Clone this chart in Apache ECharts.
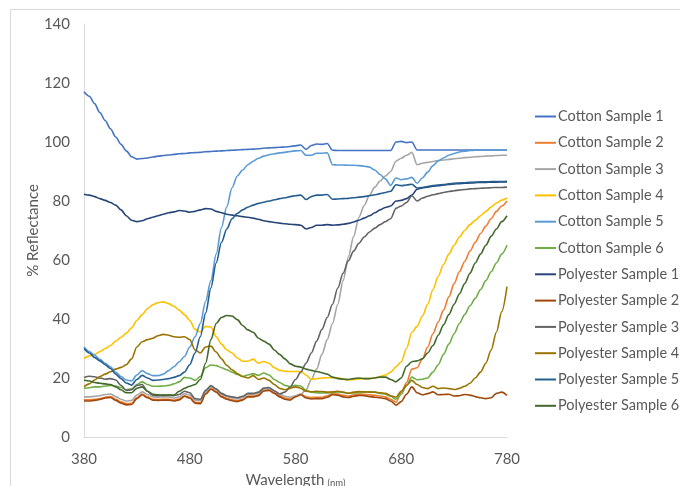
<!DOCTYPE html>
<html>
<head>
<meta charset="utf-8">
<script src="https://cdn.jsdelivr.net/npm/echarts@6/dist/echarts.min.js"></script>
<style>
html,body{margin:0;padding:0;background:#fff;}
#chart{width:680px;height:486px;}
</style>
</head>
<body>
<div id="chart"></div>
<script>
const wavelengths = [
  380,385,390,395,400,405,410,415,420,425,
  430,435,440,445,450,455,460,465,470,475,
  480,485,490,495,500,505,510,515,520,525,
  530,535,540,545,550,555,560,565,570,575,
  580,585,590,595,600,605,610,615,620,625,
  630,635,640,645,650,655,660,665,670,675,
  680,685,690,695,700,705,710,715,720,725,
  730,735,740,745,750,755,760,765,770,775,
  780];

const xTicks = [380, 480, 580, 680, 780];
const yTicks = [0, 20, 40, 60, 80, 100, 120, 140];

const seriesNames = [
  'Cotton Sample 1','Cotton Sample 2','Cotton Sample 3','Cotton Sample 4','Cotton Sample 5','Cotton Sample 6',
  'Polyester Sample 1','Polyester Sample 2','Polyester Sample 3','Polyester Sample 4','Polyester Sample 5','Polyester Sample 6'];

const cotton1 = [
  117,115.5,113,110,107.3,104.5,101.7,99.2,97,95,
  94.2,94.4,94.6,94.9,95.2,95.4,95.6,95.8,96,96.1,
  96.3,96.4,96.5,96.7,96.8,96.9,97,97.1,97.2,97.3,
  97.4,97.5,97.6,97.7,97.9,98,98.1,98.2,98.3,98.5,
  98.7,99,97.5,98.8,99.3,99.2,99.5,97.2,97.1,97.1,
  97.1,97.1,97.1,97.1,97.1,97.1,97.1,97.1,97.1,100,
  100.2,99.8,100,97.3,97.3,97.3,97.3,97.3,97.3,97.3,
  97.3,97.3,97.3,97.3,97.3,97.3,97.3,97.3,97.3,97.3,
  97.3];
const cotton2 = [
  12.6,12.6,12.8,13,13.5,13.7,12.8,11.9,11.3,11.4,
  13.3,14.6,13.6,12.8,12.7,12.8,12.8,12.5,12.9,14,
  13.5,11.8,11.6,14.7,16.4,15.4,13.9,13.1,12.6,12.3,
  12.8,13.9,13.9,14.3,15.9,16,15,14,13.2,12.9,
  13.9,14.6,13.6,13.4,13.5,13.5,14,14.7,14.6,14.1,
  13.9,14.3,14.6,14.5,14.3,14.1,13.9,13.6,12.8,11.8,
  15,18.5,23,23.5,26.5,30.5,35,39,43,47.5,
  52,56,59.5,63,66,69,71.5,74,76.5,78.3,
  80];
const cotton3 = [
  13.6,13.6,13.8,14,14.4,14.6,13.7,12.8,12.2,12.4,
  14.2,15.3,14.4,13.6,13.5,13.6,13.6,13.2,13.6,14.7,
  14.2,12.5,12.3,15.3,17,16,14.5,13.7,13.2,12.9,
  13.4,14.5,14.5,14.9,16.3,16.5,15.5,14.5,13.8,13.5,
  14,14.5,16,19.5,23,28,33,38.5,45,53,
  61,68,74.5,78.5,82,84.7,86.8,88.5,90,93.5,
  94.5,95.5,96.5,92.3,92.8,93.1,93.4,93.7,93.9,94.1,
  94.3,94.5,94.7,94.8,95,95.1,95.2,95.3,95.4,95.5,
  95.5];
const cotton4 = [
  26.6,27.5,28,28.9,30,31,32.5,33.8,35.2,37,
  39.5,41.5,43.5,44.8,45.5,45.8,45.2,44.3,43,41.5,
  39.5,36.5,35.6,37.5,37.3,34,31.5,29.5,28.5,26.8,
  25.7,25.7,26.4,25,25.6,25,23.5,22.6,22.3,22.2,
  22.2,22.2,21,19.5,19.8,20,20.1,20.1,20.1,19.7,
  19.3,19.5,19.7,19.8,19.8,20,20.5,21,22,23.8,
  25.5,30,35.5,37.5,41,45,50,54.5,58.5,62,
  65,67.8,70,72,73.5,75,76.5,78,79.3,80.3,
  81];
const cotton5 = [
  30.5,29,27.8,26.3,25,23.8,22,20.5,19.3,19,
  21,22.5,21.5,20.8,20.8,21.3,22.5,23.8,25.5,27.3,
  30.5,34,38.5,46,53,62,71,78,84.5,88.5,
  90.5,92.3,93.5,94.5,95.2,95.7,96,96.3,96.5,96.8,
  97,97.1,95.5,95.5,96.2,96.2,96.3,92.3,92.2,92.2,
  92.1,92.1,92,91.8,91.5,90.5,89,87.5,85.3,87.8,
  87.2,87.5,88,86,87.8,89.8,92,93.6,94.6,95.5,
  96.1,96.6,96.9,97.1,97.2,97.3,97.3,97.3,97.3,97.3,
  97.3];
const cotton6 = [
  16.5,16.7,17,17,17.3,17.5,17.3,16.8,16,16.3,
  17.8,18.7,17.8,17.2,17.2,17.3,17.5,18,18.7,20.2,
  20,19.2,20.5,23.5,24.4,24.2,23.5,22.8,22,21.2,
  20.5,21,21.5,20.9,21.7,21,19.5,18.5,17.5,17,
  17.5,17.3,15.8,15.2,15,14.9,14.9,15.1,15.3,15.1,
  14.9,14.9,15.1,15.3,15.3,15.2,14.8,14.5,13.8,12.8,
  14.5,17.5,20.3,19.4,19.6,20,22,24.5,28,31.5,
  35,38.5,41.5,44.5,47,50,53,56,59,62,
  65];
const poly1 = [
  82.3,82,81.5,80.8,80.2,79.5,78.6,77,75,73.5,
  73,73.3,74,74.5,75,75.5,76,76.3,76.8,76.6,
  76.2,76.5,77,77.4,77.3,76.5,76,75.5,75.2,75,
  74.7,74.5,74.2,73.8,73.3,73,72.7,72.5,72.3,72.1,
  72,71.8,70.5,71,71.8,71.8,72,71.8,71.9,72.1,
  72.4,72.9,73.5,74.2,75,76,77,77.8,78.3,80,
  80.2,80.8,82,84,84.4,84.7,85,85.2,85.4,85.6,
  85.8,85.9,86,86.1,86.2,86.3,86.3,86.4,86.4,86.5,
  86.5];
const poly2 = [
  12.2,12.2,12.4,12.7,13.2,13.4,12.4,11.5,10.9,11,
  13,14.3,13.3,12.5,12.4,12.5,12.5,12.2,12.6,13.8,
  13.2,11.5,11.3,14.5,16.2,15.2,13.6,12.8,12.3,12,
  12.5,13.6,13.6,14,15.6,15.8,14.8,13.6,12.8,12.5,
  13.6,14.3,13.2,12.9,13,13,13.5,14.3,14.2,13.6,
  13.4,13.8,14.1,14,13.7,13.5,13.3,13,12.2,10.8,
  12,14.5,17,15,14.3,14.7,15.3,14.3,14.4,14.5,
  13.9,14,14.4,14.2,13.7,13.3,13,13.3,14.8,15.2,
  14.1];
const poly3 = [
  20.2,20.6,20.4,20,19.6,19.8,19.3,17.5,15.8,16,
  17.5,17.8,15.5,14.2,14,14.1,14.2,14,14.4,15.5,
  15,13,12.8,15.8,17.4,16.3,14.8,14,13.6,13.3,
  13.8,14.8,14.8,15.2,16.6,16.8,15.7,14.6,15.2,17,
  19.5,22,25,28.5,32.5,36.5,40.5,45,50.5,55.5,
  59.8,63,65.7,67.8,69.5,70.8,72,73,74,77.5,
  78.3,79.5,81.8,80,81,81.6,82.1,82.5,82.9,83.2,
  83.5,83.7,83.9,84.1,84.2,84.3,84.4,84.5,84.6,84.6,
  84.7];
const poly4 = [
  17,18,19.3,20.5,21.3,22.1,23,23.6,24.5,26.5,
  30.5,32.3,33,33.5,34.3,34.8,34.5,34,33.8,34,
  33,29.5,28.5,30.5,30.8,28.8,26.5,24.3,22.8,21.5,
  20.5,20,20.8,19.5,20,19.2,17.8,16.5,16,16.5,
  17,16.5,15.5,15.3,15.5,15.4,15.2,15.3,15.5,15.2,
  14.8,15.2,15.4,15.3,15.2,15.2,15,14.8,14,13.5,
  15.5,17.5,19.2,17.8,16.8,16.4,17.2,16.4,16.6,16.4,
  16.1,16.5,17.2,18.2,20,22,25,29.5,35.5,42.5,
  51];
const poly5 = [
  30,28.5,27,25.8,24.5,23.2,21.3,19.8,18.3,17.6,
  19.5,20.9,20,19.2,19.3,19.5,19.8,20.2,20.8,22,
  24.5,28.5,34,42,50.5,59,66,70.5,74,75.8,
  77,77.9,78.6,79.2,79.6,80,80.4,80.8,81.1,81.5,
  81.8,82,80.5,81.5,82,82,82.2,80.6,80.7,80.8,
  80.9,81.1,81.3,81.5,81.8,82.1,82.5,82.9,83.3,85.5,
  85.2,85.4,85.7,84.4,84.6,84.9,85.2,85.4,85.6,85.8,
  86,86.1,86.2,86.3,86.4,86.5,86.5,86.6,86.6,86.6,
  86.7];
const poly6 = [
  19.3,19,18.5,18.2,18,17.8,17,16,15,15,
  16.5,17,15.5,14.5,14.3,14.2,14.2,14.2,15.5,16.5,
  17.2,17.8,19.5,25,33,38.5,40.5,41.2,41,39.8,
  37.8,36.3,35.5,33.5,32.5,31.5,29.5,28,26.5,24.8,
  24,23.7,23,22.6,22.2,21.8,21.3,20.3,19.8,19.6,
  19.5,19.8,20,19.8,19.8,20,20.3,20.3,19.5,18.7,
  20,24,25.5,25.8,26.5,28.5,31,34.5,38,41.5,
  45,48.5,52,55.5,59,62,65,68,70.5,73,
  75];

const seriesValues = [cotton1,cotton2,cotton3,cotton4,cotton5,cotton6,poly1,poly2,poly3,poly4,poly5,poly6];
const seriesColors = ['#4472C4','#ED7D31','#A5A5A5','#FFC000','#5B9BD5','#70AD47',
                      '#264478','#9E480E','#636363','#997300','#255E91','#43682B'];

const chart = echarts.init(document.getElementById('chart'), null, {renderer: 'canvas'});
const FONT = 'Lato, "Open Sans", sans-serif';

const option = {
  animation: false,
  backgroundColor: '#ffffff',
  textStyle: {fontFamily: FONT},
  graphic: [{
    type: 'rect', silent: true, z: -10,
    shape: {x: 10.5, y: 9.5, width: 800, height: 600},
    style: {fill: 'none', stroke: '#D9D9D9', lineWidth: 1}
  }],
  grid: {left: 84, right: 173, top: 24, bottom: 49, containLabel: false, outerBoundsMode: 'none'},
  legend: {
    orient: 'vertical',
    left: 530,
    top: 104,
    itemWidth: 21,
    itemHeight: 14,
    itemGap: 11.3,
    icon: 'path://M0,6 L21,6 L21,8 L0,8 Z',
    textStyle: {color: '#595959', fontSize: 14.5, fontFamily: FONT, padding: [0,0,0,-3]},
    data: seriesNames
  },
  xAxis: {
    type: 'value', min: xTicks[0], max: xTicks[xTicks.length-1], interval: 100,
    splitLine: {show: false},
    axisTick: {show: false},
    axisLine: {show: true, lineStyle: {color: '#D9D9D9', width: 1}},
    axisLabel: {color: '#595959', fontSize: 15, margin: 15, fontFamily: FONT},
    name: '{a|Wavelength} {b|(nm)}',
    nameLocation: 'middle',
    nameGap: 36,
    nameMoveOverlap: false,
    nameTextStyle: {
      rich: {
        a: {fontSize: 15, color: '#595959', fontFamily: FONT},
        b: {fontSize: 9.5, color: '#595959', fontFamily: FONT, padding: [4,0,0,0]}
      }
    }
  },
  yAxis: {
    type: 'value', min: yTicks[0], max: yTicks[yTicks.length-1], interval: 20,
    splitLine: {show: false},
    axisTick: {show: false},
    axisLine: {show: true, lineStyle: {color: '#D9D9D9', width: 1}},
    axisLabel: {color: '#595959', fontSize: 15, margin: 14, fontFamily: FONT},
    name: '% Reflectance',
    nameLocation: 'middle',
    nameGap: 43,
    nameMoveOverlap: false,
    nameTextStyle: {color: '#595959', fontSize: 15, fontFamily: FONT}
  },
  series: seriesNames.map((name, k) => ({
    name: name,
    type: 'line',
    symbol: 'none',
    smooth: 0.3,
    smoothMonotone: 'x',
    color: seriesColors[k],
    lineStyle: {width: 1.6, color: seriesColors[k]},
    data: wavelengths.map((w, i) => [w, seriesValues[k][i]])
  }))
};
chart.setOption(option);
</script>
</body>
</html>
